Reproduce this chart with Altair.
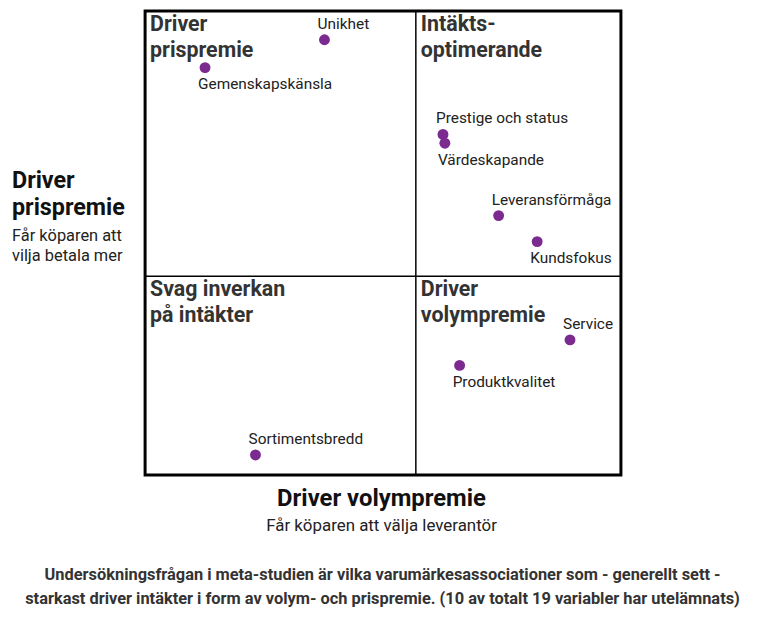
import altair as alt
import pandas as pd

# --- data -------------------------------------------------------------
labels = ["Unikhet", "Gemenskapskänsla", "Prestige och status", "Värdeskapande",
          "Leveransförmåga", "Kundsfokus", "Service", "Produktkvalitet", "Sortimentsbredd"]
volym = [37.7, 12.6, 62.6, 63.0, 74.3, 82.4, 89.3, 66.1, 23.2]
pris = [93.8, 87.8, 73.4, 71.5, 55.9, 50.3, 29.1, 23.6, 4.3]
label_pos = ["above", "below", "above", "below", "above", "below", "above", "below", "above"]

quad_titles = ["Driver\nprispremie", "Intäkts-\noptimerande", "Svag inverkan\npå intäkter", "Driver\nvolympremie"]
quad_x = [0, 56.9, 0, 56.9]
quad_y = [100, 100, 42.8, 42.8]
split_x = [56.9]
split_y = [42.8]

left_title = ["Driver", "prispremie"]
left_sub = ["Får köparen att", "vilja betala mer"]
bottom_title = ["Driver volympremie"]
bottom_sub = ["Får köparen att välja leverantör"]
footer = ["Undersökningsfrågan i meta-studien är vilka varumärkesassociationer som - generellt sett -",
          "starkast driver intäkter i form av volym- och prispremie. (10 av totalt 19 variabler har utelämnats)"]

# --- layout -----------------------------------------------------------
W, H = 479, 467
PAD = {"left": 138, "top": 1, "right": 140, "bottom": 140}
FONT = "Roboto"

pts = pd.DataFrame({"label": labels, "volym": volym, "pris": pris, "pos": label_pos})
quads = pd.DataFrame({"t": quad_titles, "x": quad_x, "y": quad_y})

xs = alt.Scale(domain=[0, 100], nice=False, zero=False)
ys = alt.Scale(domain=[0, 100], nice=False, zero=False)

base = alt.Chart(pts)
points = base.mark_circle(size=120, opacity=1, color="#7b2a90").encode(
    x=alt.X("volym:Q", scale=xs, axis=None),
    y=alt.Y("pris:Q", scale=ys, axis=None),
)
lab_common = dict(align="left", baseline="middle", font=FONT, fontSize=15.5, color="#222", dx=-7)
above = base.mark_text(dy=-16, **lab_common).encode(
    x=alt.X("volym:Q", scale=xs, axis=None), y=alt.Y("pris:Q", scale=ys, axis=None), text="label:N"
).transform_filter(alt.datum.pos == "above")
below = base.mark_text(dy=17, **lab_common).encode(
    x=alt.X("volym:Q", scale=xs, axis=None), y=alt.Y("pris:Q", scale=ys, axis=None), text="label:N"
).transform_filter(alt.datum.pos == "below")

vrule = alt.Chart(pd.DataFrame({"v": split_x})).mark_rule(color="black", strokeWidth=1.5).encode(
    x=alt.X("v:Q", scale=xs, axis=None))
hrule = alt.Chart(pd.DataFrame({"v": split_y})).mark_rule(color="black", strokeWidth=1.5).encode(
    y=alt.Y("v:Q", scale=ys, axis=None))

qt = alt.Chart(quads).mark_text(align="left", baseline="top", dx=5, dy=3, lineBreak="\n",
                                lineHeight=26, font=FONT, fontWeight="bold", fontSize=21.5,
                                color="#333").encode(
    x=alt.X("x:Q", scale=xs, axis=None), y=alt.Y("y:Q", scale=ys, axis=None), text="t:N")


def px_text(lines, px, pys, align, size, weight, color):
    df = pd.DataFrame({"t": lines, "px": [px] * len(lines), "py": pys})
    return alt.Chart(df).mark_text(align=align, baseline="middle", font=FONT, fontSize=size,
                                   fontWeight=weight, color=color).encode(
        x=alt.X("px:Q", scale=None, axis=None), y=alt.Y("py:Q", scale=None, axis=None), text="t:N")


t1 = px_text(left_title, -134, [171, 198], "left", 23.5, "bold", "#111")
t2 = px_text(left_sub, -134, [227, 247], "left", 16.5, "normal", "#222")
t3 = px_text(bottom_title, 238, [491], "center", 24, "bold", "#111")
t4 = px_text(bottom_sub, 238, [518], "center", 17, "normal", "#222")
t5 = px_text(footer, 239, [568, 592], "center", 16.5, "bold", "#333")

chart = alt.layer(vrule, hrule, points, above, below, qt, t1, t2, t3, t4, t5).properties(
    width=W, height=H, autosize=alt.AutoSizeParams(type="none"), padding=PAD
).configure_view(stroke="black", strokeWidth=3)

chart.save("out.html", embed_options={"renderer": "svg", "actions": False})
